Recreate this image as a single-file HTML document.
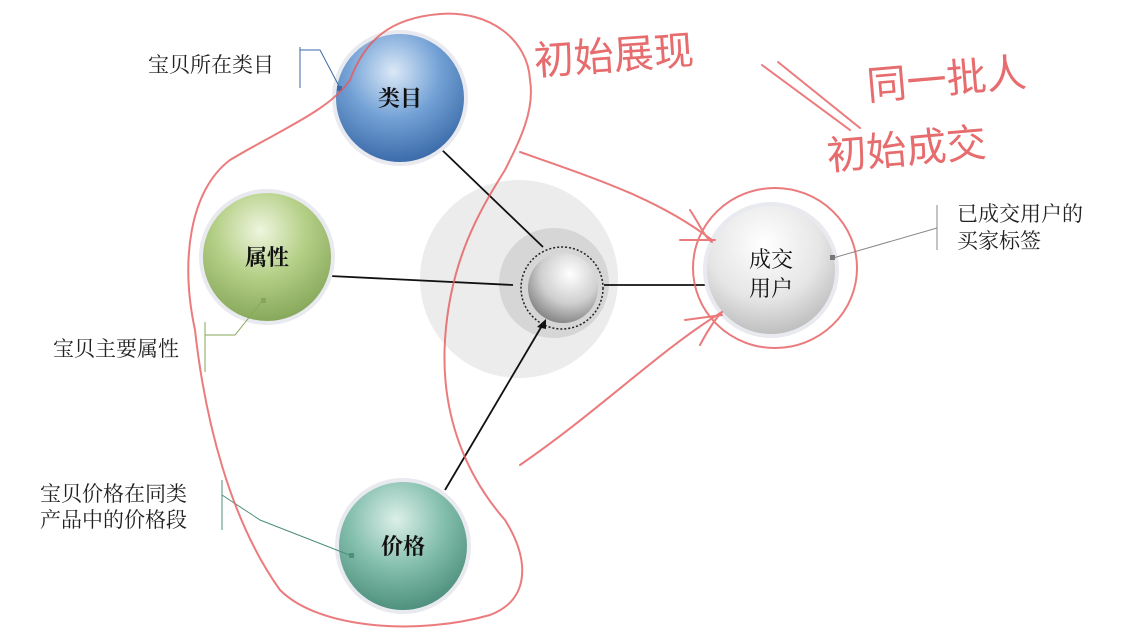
<!DOCTYPE html>
<html><head><meta charset="utf-8"><style>
body{margin:0;background:#fff;width:1125px;height:633px;overflow:hidden}
svg{display:block}
text{font-family:"Liberation Serif","Noto Serif CJK SC",serif}
.hw{font-family:"Liberation Sans","WenQuanYi Zen Hei",sans-serif;fill:#e0484b;opacity:.8}
</style></head><body>
<svg width="1125" height="633" viewBox="0 0 1125 633">
<defs>
<radialGradient id="gb" cx="45%" cy="30%" r="70%"><stop offset="0" stop-color="#dbe9f7"/><stop offset=".5" stop-color="#74a2d6"/><stop offset="1" stop-color="#3a6aa8"/></radialGradient>
<radialGradient id="gg" cx="45%" cy="30%" r="70%"><stop offset="0" stop-color="#eef5de"/><stop offset=".5" stop-color="#b4cf86"/><stop offset="1" stop-color="#86a75a"/></radialGradient>
<radialGradient id="gt" cx="45%" cy="30%" r="70%"><stop offset="0" stop-color="#dcefe9"/><stop offset=".5" stop-color="#86c0ae"/><stop offset="1" stop-color="#4c8f7b"/></radialGradient>
<radialGradient id="gw" cx="45%" cy="30%" r="70%"><stop offset="0" stop-color="#ffffff"/><stop offset=".6" stop-color="#e6e6e6"/><stop offset="1" stop-color="#bdbdbd"/></radialGradient>
<radialGradient id="gs" cx="60%" cy="30%" r="70%"><stop offset="0" stop-color="#ffffff"/><stop offset=".6" stop-color="#cfcfcf"/><stop offset="1" stop-color="#8a8a8a"/></radialGradient>
</defs>
<circle cx="519" cy="279" r="99" fill="#ececec"/>
<circle cx="554" cy="283" r="55" fill="#d6d6d6"/>
<circle cx="562" cy="288" r="41" fill="none" stroke="#222" stroke-width="1.5" stroke-dasharray="2,2"/>
<circle cx="563" cy="288" r="35" fill="url(#gs)"/>
<g stroke="#111" stroke-width="1.8">
<line x1="440" y1="148" x2="543" y2="247"/>
<line x1="330" y1="276" x2="513" y2="285"/>
<line x1="604" y1="285" x2="705" y2="285"/>
<line x1="445" y1="490" x2="543" y2="324"/>
</g>
<polygon points="546,319 537,327 546,329" fill="#111"/>
<g stroke="#e8eaef" stroke-width="4">
<circle cx="400" cy="98" r="66" fill="url(#gb)"/>
<circle cx="267" cy="257" r="66" fill="url(#gg)"/>
<circle cx="403" cy="546" r="66" fill="url(#gt)"/>
<circle cx="771" cy="270" r="66" fill="url(#gw)"/>
</g>
<g font-size="22" font-weight="bold" text-anchor="middle" fill="#111">
<text x="400" y="106">类目</text>
<text x="267" y="265">属性</text>
<text x="403" y="554">价格</text>
</g>
<g font-size="22" text-anchor="middle" fill="#111"><text x="771" y="267">成交</text><text x="771" y="296">用户</text></g>
<g font-size="21" fill="#222">
<text x="148" y="72">宝贝所在类目</text>
<text x="53" y="356">宝贝主要属性</text>
<text x="40" y="501">宝贝价格在同类</text>
<text x="40" y="527">产品中的价格段</text>
<text x="957" y="221">已成交用户的</text>
<text x="957" y="248">买家标签</text>
</g>
<g fill="none" stroke-width="1">
<polyline points="300,47 300,88" stroke="#3a6aa8"/><polyline points="300,50 320,50 340,88" stroke="#3a6aa8"/>
<polyline points="205,322 205,372" stroke="#86a75a"/><polyline points="205,335 235,335 263,300" stroke="#86a75a"/>
<polyline points="222,480 222,530" stroke="#4c8f7b"/><polyline points="222,495 260,520 352,556" stroke="#4c8f7b"/>
<polyline points="937,205 937,250" stroke="#888"/><polyline points="937,228 833,258" stroke="#888"/>
</g>
<rect x="337" y="86" width="5" height="5" fill="#3a6aa8"/>
<rect x="261" y="298" width="5" height="5" fill="#86a75a"/>
<rect x="349" y="553" width="5" height="5" fill="#4c8f7b"/>
<rect x="830" y="255" width="5" height="5" fill="#777"/>
<g fill="none" stroke="#e65a5c" stroke-width="2" opacity=".8" stroke-linecap="round">
<path d="M530,80 C528,40 490,10 440,14 C390,18 365,40 350,80 C330,110 280,130 230,160 C190,190 180,260 195,330 C205,420 230,520 280,590 C320,630 420,635 490,615 C530,600 530,560 505,520 C470,480 440,420 445,340 C450,260 480,210 505,170 C520,140 535,110 530,80"/>
<path d="M520,152 C600,180 660,200 712,240 M690,210 C700,225 705,238 712,242 M680,240 L715,240"/>
<path d="M520,465 C600,410 660,350 722,312 M700,345 C708,330 716,318 722,312 M685,320 L722,315"/>
<ellipse cx="775" cy="268" rx="82" ry="80"/>
<path d="M762,65 L850,130 M778,62 L860,128"/>
</g>
<text class="hw" x="535" y="75" font-size="40" transform="rotate(-4 535 75)">初始展现</text>
<text class="hw" x="868" y="100" font-size="40" transform="rotate(-5 868 100)">同一批人</text>
<text class="hw" x="828" y="170" font-size="40" transform="rotate(-5 828 170)">初始成交</text>
</svg>
</body></html>
